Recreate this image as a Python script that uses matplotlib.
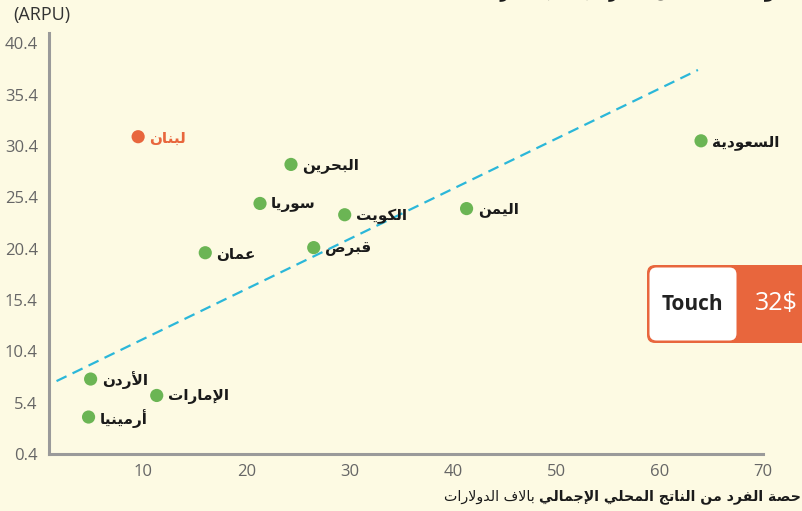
"""
Scatter chart: ARPU against GDP per capita (thousand USD), Arabic labels.
"""

import matplotlib
matplotlib.use("Agg")
import matplotlib.pyplot as plt
from matplotlib.patches import FancyBboxPatch
from matplotlib.transforms import IdentityTransform

# ---- data -------------------------------------------------------------
countries = ["لبنان", "البحرين", "سوريا", "الكويت", "قبرص", "عمان",
             "اليمن", "السعودية", "الأردن", "الإمارات", "أرمينيا"]
gdp = [9.5, 24.3, 21.3, 29.5, 26.5, 16.0, 41.3, 64.0, 4.9, 11.3, 4.7]
arpu = [31.3, 28.6, 24.8, 23.7, 20.5, 20.0, 24.3, 30.9, 7.7, 6.1, 4.0]
highlight = "لبنان"

trend_x = [1.6, 63.7]
trend_y = [7.5, 37.8]

x_ticks = [10, 20, 30, 40, 50, 60, 70]
y_ticks = [0.4, 5.4, 10.4, 15.4, 20.4, 25.4, 30.4, 35.4, 40.4]

xlabel_bold = "حصة الفرد من الناتج المحلي الإجمالي"
xlabel_light = "بالاف الدولارات"
top_note = "متوسط العائد لكل مشترك بحسب الشركة"
box_name = "Touch"
box_price = "32$"

# ---- simple arabic shaping (matplotlib has no shaping / bidi) ----------
FORMS = {
    "ا": (0xFE8D, 0xFE8E), "أ": (0xFE83, 0xFE84), "إ": (0xFE87, 0xFE88),
    "آ": (0xFE81, 0xFE82), "د": (0xFEA9, 0xFEAA), "ذ": (0xFEAB, 0xFEAC),
    "ر": (0xFEAD, 0xFEAE), "ز": (0xFEAF, 0xFEB0), "و": (0xFEED, 0xFEEE),
    "ؤ": (0xFE85, 0xFE86), "ة": (0xFE93, 0xFE94), "ى": (0xFEEF, 0xFEF0),
    "ب": (0xFE8F,), "ت": (0xFE95,), "ث": (0xFE99,), "ج": (0xFE9D,),
    "ح": (0xFEA1,), "خ": (0xFEA5,), "س": (0xFEB1,), "ش": (0xFEB5,),
    "ص": (0xFEB9,), "ض": (0xFEBD,), "ط": (0xFEC1,), "ظ": (0xFEC5,),
    "ع": (0xFEC9,), "غ": (0xFECD,), "ف": (0xFED1,), "ق": (0xFED5,),
    "ك": (0xFED9,), "ل": (0xFEDD,), "م": (0xFEE1,), "ن": (0xFEE5,),
    "ه": (0xFEE9,), "ي": (0xFEF1,), "ئ": (0xFE89,),
}
LAM_ALEF = {"ا": (0xFEFB, 0xFEFC), "أ": (0xFEF7, 0xFEF8),
            "إ": (0xFEF9, 0xFEFA), "آ": (0xFEF5, 0xFEF6)}


def dual(c):
    return c in FORMS and len(FORMS[c]) == 1


def shape(text):
    items = []
    i = 0
    while i < len(text):
        if text[i] == "ل" and i + 1 < len(text) and text[i + 1] in LAM_ALEF:
            items.append(("LA", text[i + 1]))
            i += 2
        else:
            items.append(text[i])
            i += 1
    out = []
    for k, it in enumerate(items):
        prev = items[k - 1] if k > 0 else None
        nxt = items[k + 1] if k + 1 < len(items) else None
        jp = isinstance(prev, str) and dual(prev)
        jn = nxt is not None and (isinstance(nxt, tuple) or nxt in FORMS)
        if isinstance(it, tuple):
            out.append(chr(LAM_ALEF[it[1]][1 if jp else 0]))
        elif it in FORMS:
            f = FORMS[it]
            if len(f) == 2:
                out.append(chr(f[1] if jp else f[0]))
            else:
                base = f[0]
                if jp and jn:
                    out.append(chr(base + 3))
                elif jp:
                    out.append(chr(base + 1))
                elif jn:
                    out.append(chr(base + 2))
                else:
                    out.append(chr(base))
        else:
            out.append(it)
    return "".join(out)[::-1]


# ---- style ------------------------------------------------------------
BG = "#FDFAE3"
GREEN = "#6BB554"
ORANGE = "#E8663D"
SPINE = "#9A9A9A"
CYAN = "#2BB7D9"
AR_FONT = "DejaVu Sans"

W, H = 802, 511
fig = plt.figure(figsize=(W / 100, H / 100), dpi=100, facecolor=BG)
ax = fig.add_axes([49 / W, 1 - 454 / H, (763 - 49) / W, (454 - 33) / H])
ax.set_facecolor(BG)

ax.set_xlim(0.87, 70)
ax.set_ylim(0.4, 41.4)

for s in ["top", "right"]:
    ax.spines[s].set_visible(False)
for s in ["left", "bottom"]:
    ax.spines[s].set_color(SPINE)
    ax.spines[s].set_linewidth(2.2)

ax.set_xticks(x_ticks)
ax.set_yticks(y_ticks)
ax.set_xticklabels([str(v) for v in x_ticks])
ax.set_yticklabels([f"{v:.1f}" for v in y_ticks])
ax.tick_params(length=0, labelsize=12, labelcolor="#666666")
ax.tick_params(axis="y", pad=8)
ax.tick_params(axis="x", pad=7)
for lab in ax.get_xticklabels() + ax.get_yticklabels():
    lab.set_family("Open Sans")

# trend line
ax.plot(trend_x, trend_y, color=CYAN, lw=1.6, ls=(0, (5, 3)), zorder=2)

# points + labels
for name, x, y in zip(countries, gdp, arpu):
    col = ORANGE if name == highlight else GREEN
    ax.scatter([x], [y], s=90, color=col, edgecolors="none", zorder=3)
    ax.annotate(shape(name), (x, y), xytext=(8, -1), textcoords="offset points",
                ha="left", va="center", fontsize=11, fontweight="bold",
                family=AR_FONT, color=col if name == highlight else "#1A1A1A",
                zorder=4)

# y unit label
fig.text(13 / W, 1 - 15 / H, "(ARPU)", ha="left", va="center",
         fontsize=13, color="#333333", family="Open Sans")

# clipped note at the top right (cut by the figure edge, as in the source)
fig.text(790 / W, 1 + 6 / H, shape(top_note), ha="right", va="center",
         fontsize=11, fontweight="bold", family=AR_FONT, color="#1A1A1A")

# x label: bold part on the right, light part to its left
t1 = fig.text(801 / W, 1 - 497 / H, shape(xlabel_bold), ha="right",
              va="center", fontsize=10.2, fontweight="bold", family=AR_FONT,
              color="#1A1A1A")
fig.canvas.draw()
bb = t1.get_window_extent()
fig.text((bb.x0 - 4) / W, 1 - 497 / H, shape(xlabel_light), ha="right",
         va="center", fontsize=10.2, family=AR_FONT, color="#1A1A1A")

# price box (pixel coordinates, origin bottom-left)
outer = FancyBboxPatch((647, H - 343), 180, 78,
                       boxstyle="round,pad=0,rounding_size=8",
                       transform=IdentityTransform(), facecolor=ORANGE,
                       edgecolor="none")
inner = FancyBboxPatch((649.5, H - 340.5), 87, 73,
                       boxstyle="round,pad=0,rounding_size=7",
                       transform=IdentityTransform(), facecolor="white",
                       edgecolor="none")
fig.add_artist(outer)
fig.add_artist(inner)
fig.text(692 / W, 1 - 304 / H, box_name, ha="center", va="center",
         fontsize=15, fontweight="bold", family="Open Sans", color="#222222")
fig.text(776 / W, 1 - 304 / H, box_price, ha="center", va="center",
         fontsize=18, family="Open Sans", color="white")

fig.savefig("out.png", dpi=100, facecolor=BG)
